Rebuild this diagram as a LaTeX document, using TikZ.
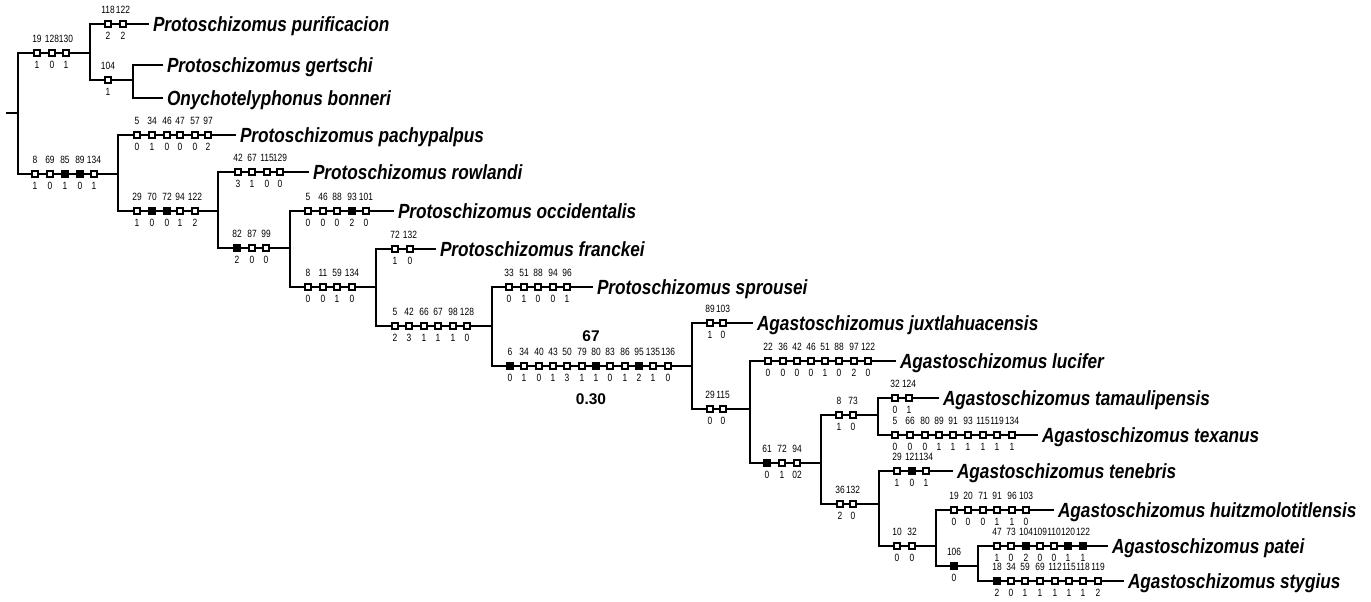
\documentclass[tikz,border=0pt]{standalone}
\usepackage{fontspec}
\usetikzlibrary{positioning}
\newfontfamily\taxfont[FakeStretch=0.84]{Liberation Sans}
\newfontfamily\numfont[FakeStretch=0.8]{Liberation Sans}
\newfontfamily\valfont{Liberation Sans}
\newlength{\du}
\setlength{\du}{1pt}

\tikzset{
  branch/.style={line width=2.8\du, line join=miter},
  chr/.style={draw, fill=white, line width=1.9\du, minimum size=6.2\du, inner sep=0pt, outer sep=0pt},
  chrf/.style={chr, fill=black},
  num/.style={font=\numfont\fontsize{10.5}{10.5}\selectfont, inner sep=0pt},
  taxon/.style={font=\taxfont\bfseries\itshape\fontsize{20.5}{20.5}\selectfont, anchor=west, inner sep=0pt, outer sep=4\du, text height=14.7\du, text depth=0\du},
  support/.style={font=\valfont\bfseries\fontsize{15.5}{15.5}\selectfont, inner sep=0pt}
}

\begin{document}
\begin{tikzpicture}[x=1\du, y=-1\du]
\useasboundingbox (0,0) rectangle (1371,602);
% internal nodes
\coordinate (root) at (6,113);
\coordinate (nR) at (18,113);
\coordinate (nA) at (90,53);
\coordinate (nP) at (133,80);
\coordinate (nB) at (118,174);
\coordinate (nC) at (218,211);
\coordinate (nD) at (290,248);
\coordinate (nE) at (376,287);
\coordinate (nF) at (492,326);
\coordinate (nG) at (692,366);
\coordinate (nH) at (750,409);
\coordinate (nI) at (821,463);
\coordinate (nJ) at (878,415);
\coordinate (nK) at (879,504);
\coordinate (nL) at (936,546);
\coordinate (nM) at (978,566);
% taxa
\node[taxon] (pur) at (149,24) {Protoschizomus purificacion};
\node[taxon] (ger) at (163,65) {Protoschizomus gertschi};
\node[taxon] (bon) at (163,98) {Onychotelyphonus bonneri};
\node[taxon] (pac) at (236,135) {Protoschizomus pachypalpus};
\node[taxon] (row) at (309,172) {Protoschizomus rowlandi};
\node[taxon] (occ) at (394,211) {Protoschizomus occidentalis};
\node[taxon] (fra) at (436,249) {Protoschizomus franckei};
\node[taxon] (spr) at (593,287) {Protoschizomus sprousei};
\node[taxon] (jux) at (753,323) {Agastoschizomus juxtlahuacensis};
\node[taxon] (luc) at (896,361) {Agastoschizomus lucifer};
\node[taxon] (tam) at (939,398) {Agastoschizomus tamaulipensis};
\node[taxon] (tex) at (1038,435) {Agastoschizomus texanus};
\node[taxon] (ten) at (953,471) {Agastoschizomus tenebris};
\node[taxon] (hui) at (1054,510) {Agastoschizomus huitzmolotitlensis};
\node[taxon] (pat) at (1108,546) {Agastoschizomus patei};
\node[taxon] (sty) at (1124,581) {Agastoschizomus stygius};
% tree
\draw[branch] (root) -- (nR);
\draw[branch] (nA) -| (nR) |- (nB);
\draw[branch] (pur.west) -| (nA) |- (nP);
\draw[branch] (ger.west) -| (nP) |- (bon.west);
\draw[branch] (pac.west) -| (nB) |- (nC);
\draw[branch] (row.west) -| (nC) |- (nD);
\draw[branch] (occ.west) -| (nD) |- (nE);
\draw[branch] (fra.west) -| (nE) |- (nF);
\draw[branch] (spr.west) -| (nF) |- (nG);
\draw[branch] (jux.west) -| (nG) |- (nH);
\draw[branch] (luc.west) -| (nH) |- (nI);
\draw[branch] (nJ) -| (nI) |- (nK);
\draw[branch] (tam.west) -| (nJ) |- (tex.west);
\draw[branch] (ten.west) -| (nK) |- (nL);
\draw[branch] (hui.west) -| (nL) |- (nM);
\draw[branch] (pat.west) -| (nM) |- (sty.west);
% character states
\foreach \x/\c/\s/\k [count=\i] in {37/19/1/chr,52/128/0/chr,66/130/1/chr}{
  \node[\k] (A\i) at (\x,53) {};
  \node[num, above=7\du of A\i] (cA\i) {\c};
  \node[num, below=5\du of A\i] (sA\i) {\s};
}
\foreach \x/\c/\s/\k [count=\i] in {108/118/2/chr,123/122/2/chr}{
  \node[\k] (Pu\i) at (\x,24) {};
  \node[num, above=7\du of Pu\i] (cPu\i) {\c};
  \node[num, below=5\du of Pu\i] (sPu\i) {\s};
}
\foreach \x/\c/\s/\k [count=\i] in {108/104/1/chr}{
  \node[\k] (P\i) at (\x,80) {};
  \node[num, above=7\du of P\i] (cP\i) {\c};
  \node[num, below=5\du of P\i] (sP\i) {\s};
}
\foreach \x/\c/\s/\k [count=\i] in {35/8/1/chr,50/69/0/chr,65/85/1/chrf,80/89/0/chrf,94/134/1/chr}{
  \node[\k] (B\i) at (\x,174) {};
  \node[num, above=7\du of B\i] (cB\i) {\c};
  \node[num, below=5\du of B\i] (sB\i) {\s};
}
\foreach \x/\c/\s/\k [count=\i] in {137/5/0/chr,152/34/1/chr,167/46/0/chr,180/47/0/chr,195/57/0/chr,208/97/2/chr}{
  \node[\k] (Pa\i) at (\x,135) {};
  \node[num, above=7\du of Pa\i] (cPa\i) {\c};
  \node[num, below=5\du of Pa\i] (sPa\i) {\s};
}
\foreach \x/\c/\s/\k [count=\i] in {137/29/1/chr,152/70/0/chrf,167/72/0/chrf,180/94/1/chr,195/122/2/chr}{
  \node[\k] (C\i) at (\x,211) {};
  \node[num, above=7\du of C\i] (cC\i) {\c};
  \node[num, below=5\du of C\i] (sC\i) {\s};
}
\foreach \x/\c/\s/\k [count=\i] in {238/42/3/chr,252/67/1/chr,267/115/0/chr,280/129/0/chr}{
  \node[\k] (Ro\i) at (\x,172) {};
  \node[num, above=7\du of Ro\i] (cRo\i) {\c};
  \node[num, below=5\du of Ro\i] (sRo\i) {\s};
}
\foreach \x/\c/\s/\k [count=\i] in {237/82/2/chrf,252/87/0/chr,266/99/0/chr}{
  \node[\k] (D\i) at (\x,248) {};
  \node[num, above=7\du of D\i] (cD\i) {\c};
  \node[num, below=5\du of D\i] (sD\i) {\s};
}
\foreach \x/\c/\s/\k [count=\i] in {308/5/0/chr,323/46/0/chr,337/88/0/chr,352/93/2/chrf,366/101/0/chr}{
  \node[\k] (Oc\i) at (\x,211) {};
  \node[num, above=7\du of Oc\i] (cOc\i) {\c};
  \node[num, below=5\du of Oc\i] (sOc\i) {\s};
}
\foreach \x/\c/\s/\k [count=\i] in {308/8/0/chr,323/11/0/chr,337/59/1/chr,352/134/0/chr}{
  \node[\k] (E\i) at (\x,287) {};
  \node[num, above=7\du of E\i] (cE\i) {\c};
  \node[num, below=5\du of E\i] (sE\i) {\s};
}
\foreach \x/\c/\s/\k [count=\i] in {395/72/1/chr,410/132/0/chr}{
  \node[\k] (Fr\i) at (\x,249) {};
  \node[num, above=7\du of Fr\i] (cFr\i) {\c};
  \node[num, below=5\du of Fr\i] (sFr\i) {\s};
}
\foreach \x/\c/\s/\k [count=\i] in {395/5/2/chr,409/42/3/chr,424/66/1/chr,438/67/1/chr,453/98/1/chr,467/128/0/chr}{
  \node[\k] (F\i) at (\x,326) {};
  \node[num, above=7\du of F\i] (cF\i) {\c};
  \node[num, below=5\du of F\i] (sF\i) {\s};
}
\foreach \x/\c/\s/\k [count=\i] in {509/33/0/chr,524/51/1/chr,538/88/0/chr,553/94/0/chr,567/96/1/chr}{
  \node[\k] (Sp\i) at (\x,287) {};
  \node[num, above=7\du of Sp\i] (cSp\i) {\c};
  \node[num, below=5\du of Sp\i] (sSp\i) {\s};
}
\foreach \x/\c/\s/\k [count=\i] in {510/6/0/chrf,524/34/1/chr,539/40/0/chr,553/43/1/chr,567/50/3/chr,582/79/1/chr,596/80/1/chrf,610/83/0/chr,625/86/1/chr,639/95/2/chrf,653/135/1/chr,668/136/0/chr}{
  \node[\k] (G\i) at (\x,366) {};
  \node[num, above=7\du of G\i] (cG\i) {\c};
  \node[num, below=5\du of G\i] (sG\i) {\s};
}
\foreach \x/\c/\s/\k [count=\i] in {710/89/1/chr,723/103/0/chr}{
  \node[\k] (Ju\i) at (\x,323) {};
  \node[num, above=7\du of Ju\i] (cJu\i) {\c};
  \node[num, below=5\du of Ju\i] (sJu\i) {\s};
}
\foreach \x/\c/\s/\k [count=\i] in {710/29/0/chr,723/115/0/chr}{
  \node[\k] (H\i) at (\x,409) {};
  \node[num, above=7\du of H\i] (cH\i) {\c};
  \node[num, below=5\du of H\i] (sH\i) {\s};
}
\foreach \x/\c/\s/\k [count=\i] in {768/22/0/chr,783/36/0/chr,797/42/0/chr,811/46/0/chr,825/51/1/chr,839/88/0/chr,854/97/2/chr,868/122/0/chr}{
  \node[\k] (Lu\i) at (\x,361) {};
  \node[num, above=7\du of Lu\i] (cLu\i) {\c};
  \node[num, below=5\du of Lu\i] (sLu\i) {\s};
}
\foreach \x/\c/\s/\k [count=\i] in {767/61/0/chrf,782/72/1/chr,797/94/02/chr}{
  \node[\k] (I\i) at (\x,463) {};
  \node[num, above=7\du of I\i] (cI\i) {\c};
  \node[num, below=5\du of I\i] (sI\i) {\s};
}
\foreach \x/\c/\s/\k [count=\i] in {839/8/1/chr,853/73/0/chr}{
  \node[\k] (J\i) at (\x,415) {};
  \node[num, above=7\du of J\i] (cJ\i) {\c};
  \node[num, below=5\du of J\i] (sJ\i) {\s};
}
\foreach \x/\c/\s/\k [count=\i] in {895/32/0/chr,909/124/1/chr}{
  \node[\k] (Ta\i) at (\x,398) {};
  \node[num, above=7\du of Ta\i] (cTa\i) {\c};
  \node[num, below=5\du of Ta\i] (sTa\i) {\s};
}
\foreach \x/\c/\s/\k [count=\i] in {895/5/0/chr,910/66/0/chr,925/80/0/chr,939/89/1/chr,953/91/1/chr,968/93/1/chr,983/115/1/chr,997/119/1/chr,1012/134/1/chr}{
  \node[\k] (Tx\i) at (\x,435) {};
  \node[num, above=7\du of Tx\i] (cTx\i) {\c};
  \node[num, below=5\du of Tx\i] (sTx\i) {\s};
}
\foreach \x/\c/\s/\k [count=\i] in {840/36/2/chr,853/132/0/chr}{
  \node[\k] (K\i) at (\x,504) {};
  \node[num, above=7\du of K\i] (cK\i) {\c};
  \node[num, below=5\du of K\i] (sK\i) {\s};
}
\foreach \x/\c/\s/\k [count=\i] in {897/29/1/chr,912/121/0/chrf,926/134/1/chr}{
  \node[\k] (Tn\i) at (\x,471) {};
  \node[num, above=7\du of Tn\i] (cTn\i) {\c};
  \node[num, below=5\du of Tn\i] (sTn\i) {\s};
}
\foreach \x/\c/\s/\k [count=\i] in {897/10/0/chr,912/32/0/chr}{
  \node[\k] (L\i) at (\x,546) {};
  \node[num, above=7\du of L\i] (cL\i) {\c};
  \node[num, below=5\du of L\i] (sL\i) {\s};
}
\foreach \x/\c/\s/\k [count=\i] in {954/19/0/chr,968/20/0/chr,983/71/0/chr,997/91/1/chr,1012/96/1/chr,1026/103/0/chr}{
  \node[\k] (Hu\i) at (\x,510) {};
  \node[num, above=7\du of Hu\i] (cHu\i) {\c};
  \node[num, below=5\du of Hu\i] (sHu\i) {\s};
}
\foreach \x/\c/\s/\k [count=\i] in {954/106/0/chrf}{
  \node[\k] (M\i) at (\x,566) {};
  \node[num, above=7\du of M\i] (cM\i) {\c};
  \node[num, below=5\du of M\i] (sM\i) {\s};
}
\foreach \x/\c/\s/\k [count=\i] in {997/47/1/chr,1011/73/0/chr,1026/104/2/chrf,1040/109/0/chr,1054/110/0/chr,1068/120/1/chrf,1083/122/1/chrf}{
  \node[\k] (Pt\i) at (\x,546) {};
  \node[num, above=7\du of Pt\i] (cPt\i) {\c};
  \node[num, below=5\du of Pt\i] (sPt\i) {\s};
}
\foreach \x/\c/\s/\k [count=\i] in {997/18/2/chrf,1011/34/0/chr,1025/59/1/chr,1040/69/1/chr,1055/112/1/chr,1069/115/1/chr,1083/118/1/chr,1098/119/2/chr}{
  \node[\k] (St\i) at (\x,581) {};
  \node[num, above=7\du of St\i] (cSt\i) {\c};
  \node[num, below=5\du of St\i] (sSt\i) {\s};
}
% support values
\node[support] (brem) at (591,336) {67};
\node[support] (boot) at (591,399) {0.30};
\end{tikzpicture}
\end{document}
